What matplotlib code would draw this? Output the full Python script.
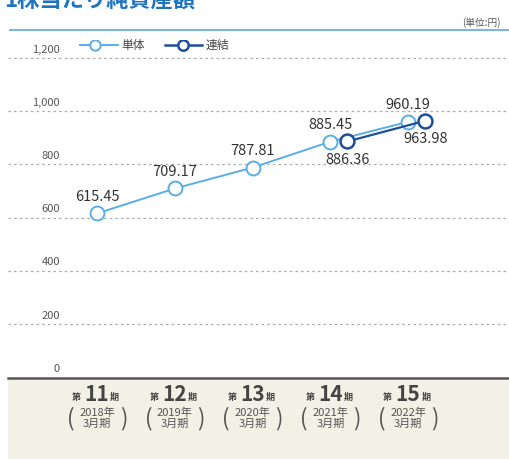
import matplotlib
matplotlib.use('Agg')
import matplotlib.pyplot as plt
from matplotlib.patches import Rectangle
import matplotlib.transforms as mtransforms

plt.rcParams['font.family'] = ['Noto Sans CJK JP', 'DejaVu Sans']

periods = ['11', '12', '13', '14', '15']
years = ['2018年', '2019年', '2020年', '2021年', '2022年']
single = [615.45, 709.17, 787.81, 885.45, 960.19]
consol_idx = [3, 4]
consol = [886.36, 963.98]
yticks = [0, 200, 400, 600, 800, 1000, 1200]

light = '#5aaee3'
dark = '#1d4f9a'
grid_c = '#aaaaaa'
text_c = '#333333'

W, H = 510, 459
fig = plt.figure(figsize=(W / 100, H / 100), dpi=100)
fig.patch.set_facecolor('white')

# beige band at the bottom
fig.patches.append(Rectangle((8 / W, 0), 1, 1 - 378 / H, transform=fig.transFigure,
                             facecolor='#f3f0e6', edgecolor='none', zorder=-5))

ax = fig.add_axes([8 / W, 1 - 378 / H, 502 / W, 338 / H])
ax.set_zorder(2)
ax.set_facecolor('none')
ax.set_xlim(-1.145, 5.31)
ax.set_ylim(-4, 1268)
for s in ['top', 'right', 'left']:
    ax.spines[s].set_visible(False)
ax.spines['bottom'].set_color('#555555')
ax.spines['bottom'].set_linewidth(1.8)
ax.set_xticks([])
ax.set_yticks([])

trans = mtransforms.blended_transform_factory(ax.transAxes, ax.transData)
for v in yticks:
    if v > 0:
        ax.axhline(v, color=grid_c, lw=0.9, ls=(0, (2, 2.5)), zorder=1)
    ax.text(52 / 502, v + 12, f'{v:,}', transform=trans, ha='right', va='bottom',
            fontsize=8, color='#555555')

x = list(range(len(single)))
ax.plot(x, single, color=light, lw=1.4, marker='o', ms=10, mfc='white',
        mec=light, mew=1.4, zorder=3)
cx = [i + 0.22 for i in consol_idx]
ax.plot(cx, consol, color=dark, lw=1.6, marker='o', ms=10, mfc='white',
        mec=dark, mew=1.8, zorder=4)

for i, v in enumerate(single):
    ax.annotate(f'{v:.2f}', (i, v), xytext=(0, 7), textcoords='offset points',
                ha='center', va='bottom', fontsize=10.5, color=text_c)
for xi, v in zip(cx, consol):
    ax.annotate(f'{v:.2f}', (xi, v), xytext=(0, -8), textcoords='offset points',
                ha='center', va='top', fontsize=10.5, color=text_c)

# legend
ly = 1249
ax.plot([-0.22, 0.27], [ly, ly], color=light, lw=1.4)
ax.plot([-0.026], [ly], marker='o', ms=7.5, mfc='white', mec=light, mew=1.4)
ax.text(0.31, ly, '単体', va='center', fontsize=8.5, color='#444444')
ax.plot([0.875, 1.35], [ly, ly], color=dark, lw=1.8)
ax.plot([1.106], [ly], marker='o', ms=7.5, mfc='white', mec=dark, mew=1.8)
ax.text(1.39, ly, '連結', va='center', fontsize=8.5, color='#444444')

# x category labels in the beige band
for i, (p, y) in enumerate(zip(periods, years)):
    base = dict(xy=(i, 0), xycoords=('data', 'axes fraction'),
                textcoords='offset points', annotation_clip=False)
    ax.annotate(p, xytext=(0, -12), ha='center', va='center', fontsize=15,
                fontweight='bold', color='#444444', **base)
    ax.annotate('第', xytext=(-11.5, -14), ha='right', va='center', fontsize=6.5,
                fontweight='bold', color='#444444', **base)
    ax.annotate('期', xytext=(9.5, -14), ha='left', va='center', fontsize=6.5,
                fontweight='bold', color='#444444', **base)
    ax.annotate(y + '\n3月期', xytext=(0, -29), ha='center', va='center',
                fontsize=8, color='#555555', linespacing=1.05, **base)
    ax.annotate('(', xytext=(-19, -29), ha='center', va='center', fontsize=16,
                color='#555555', **base)
    ax.annotate(')', xytext=(19, -29), ha='center', va='center', fontsize=16,
                color='#555555', **base)

# title (cut at top) and unit
fig.text(4 / W, 1 - 1 / H, '1株当たり純資産額', ha='left', va='center',
         fontsize=16, fontweight='bold', color='#1f74c0')
fig.text(462 / W, 1 - 23 / H, '(単位:円)', ha='left', va='center',
         fontsize=7, color='#555555')
fig.add_artist(plt.Line2D([10 / W, 1], [1 - 30 / H, 1 - 30 / H],
                          transform=fig.transFigure, color='#7fb3e2', lw=1.5))

fig.savefig('out.png', dpi=100)
